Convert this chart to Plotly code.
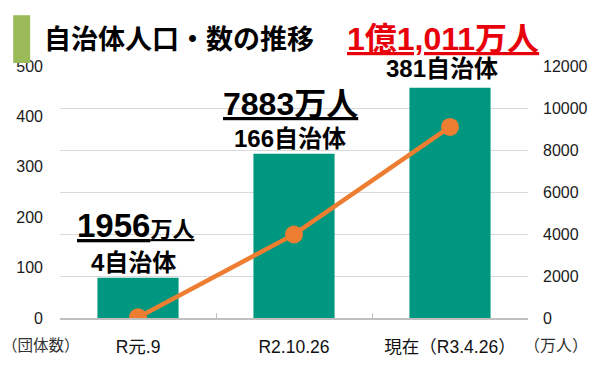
import plotly.graph_objects as go

categories = ["R元.9", "R2.10.26", "現在（R3.4.26）"]
bar_values = [80, 326, 457]
line_values = [30, 3980, 9100]
muni_labels = ["4自治体", "166自治体", "381自治体"]
left_ticks = [0, 100, 200, 300, 400, 500]
right_ticks = [0, 2000, 4000, 6000, 8000, 10000, 12000]
right_tick_text = [str(v) for v in right_ticks]

W, H = 600, 369
L, R, T, B = 60, 530, 66, 319

def px(x):
    return (x - L) / (R - L)

def py(y):
    return (B - y) / (B - T)

FONT = "Liberation Sans, Arial, Noto Sans CJK JP, sans-serif"
JFONT = "Liberation Sans, Arial, Noto Sans CJK JP, sans-serif"

fig = go.Figure()
fig.add_trace(go.Bar(x=categories, y=bar_values, marker=dict(color="#009780", line=dict(width=0)),
                     width=0.52, yaxis="y", hoverinfo="skip"))
fig.add_trace(go.Scatter(x=categories, y=line_values, yaxis="y2", mode="lines+markers",
                         line=dict(color="#ED7D31", width=4.5),
                         marker=dict(color="#ED7D31", size=18), hoverinfo="skip"))

ann = []
ann.append(dict(x=categories[0], y=184, xref="x", yref="y", xshift=-3,
                text="<b><u>1956<span style='font-size:22px'>万人</span></u></b>",
                showarrow=False, font=dict(size=33, color="black", family=JFONT)))
ann.append(dict(x=categories[1], y=424, xref="x", yref="y", xshift=-4,
                text="<b><u>7883万人</u></b>",
                showarrow=False, font=dict(size=32, color="black", family=JFONT)))
muni_y = [111, 356, 495]
muni_shift = [-5, -4, -8]
for c, t, yv, s in zip(categories, muni_labels, muni_y, muni_shift):
    ann.append(dict(x=c, y=yv, xref="x", yref="y", xshift=s, text="<b>" + t + "</b>",
                    showarrow=False, font=dict(size=24, color="black", family=JFONT)))
ann.append(dict(x=px(42), y=py(40), xref="paper", yref="paper", xanchor="left", yanchor="middle",
                text="<b>自治体人口・数の推移</b>", showarrow=False,
                font=dict(size=27, color="black", family=JFONT)))
ann.append(dict(x=px(445), y=py(39), xref="paper", yref="paper", xanchor="center", yanchor="middle",
                text="<b><u>1億1,011万人</u></b>", showarrow=False,
                font=dict(size=32, color="#E8000B", family=JFONT)))
ann.append(dict(x=px(41), y=py(347), xref="paper", yref="paper", xanchor="center", yanchor="middle",
                text="（団体数）", showarrow=False, font=dict(size=15.5, color="#333333", family=JFONT)))
ann.append(dict(x=px(558), y=py(347), xref="paper", yref="paper", xanchor="center", yanchor="middle",
                text="（万人）", showarrow=False, font=dict(size=16, color="#333333", family=JFONT)))

shapes = [dict(type="rect", xref="paper", yref="paper", x0=px(13), x1=px(30), y0=py(63), y1=py(15),
               fillcolor="#9BBB59", line=dict(width=0), layer="above")]

fig.update_layout(
    width=W, height=H,
    margin=dict(l=L, r=W - R, t=T, b=H - B, pad=0),
    paper_bgcolor="white", plot_bgcolor="white",
    showlegend=False, bargap=0.48,
    font=dict(family=FONT, size=16, color="#1a1a1a"),
    xaxis=dict(type="category", showgrid=False, showline=True, linecolor="#BFBFBF", linewidth=1.5,
               ticks="inside", tickson="boundaries", ticklen=5, tickcolor="#BFBFBF",
               tickfont=dict(size=17.5, color="#111111", family=JFONT), ticklabelstandoff=12),
    yaxis=dict(range=[0, 500], tickvals=left_ticks, showgrid=False, zeroline=False, showline=False,
               tickfont=dict(size=16, color="#1a1a1a"), ticklabelstandoff=16),
    yaxis2=dict(range=[0, 12000], tickvals=right_ticks, ticktext=right_tick_text, overlaying="y",
                side="right", showgrid=True, gridcolor="#D9D9D9", gridwidth=1, zeroline=False,
                showline=False, tickfont=dict(size=16, color="#1a1a1a"), ticklabelstandoff=14),
    annotations=ann, shapes=shapes,
)

fig.write_html("out.html", config={"displayModeBar": False},
               post_script="document.body.style.margin='0';document.body.style.overflow='hidden';")
